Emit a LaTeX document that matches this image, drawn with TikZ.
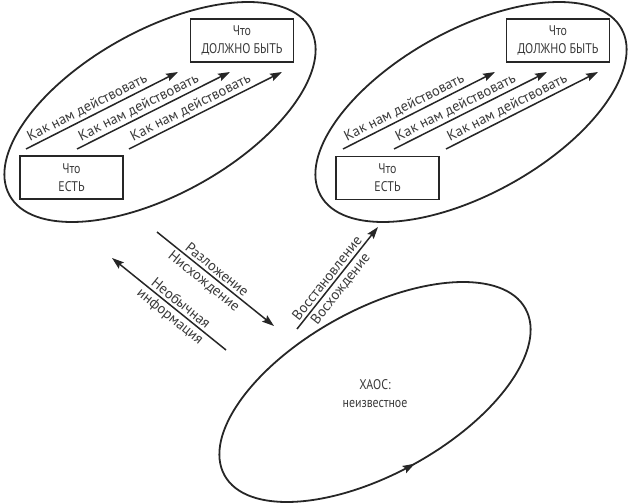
\documentclass[tikz,border=0pt]{standalone}
\usepackage{fontspec}
\setmainfont{PT Sans}[FakeStretch=0.85]
\newfontfamily\lblfont{PT Sans}
\usepackage{tikz}
\usetikzlibrary{arrows.meta,decorations.markings}
\definecolor{ink}{HTML}{262626}
\definecolor{txt}{HTML}{3A3A3A}

\begin{document}
\begin{tikzpicture}[x=1pt,y=-1pt,
		>={Stealth[length=12pt,width=8pt,inset=2pt]},
		box/.style={draw=ink, line width=1.8pt, minimum width=103pt, minimum height=43pt, inner sep=0pt, align=center, text=txt, font=\fontsize{14}{18}\selectfont},
		flow/.style={draw=ink, line width=1.5pt, ->},
		oval/.style={ink, line width=1.8pt},
		lbl/.style={sloped, text=txt, inner sep=2.5pt, font=\lblfont\fontsize{14.5}{17}\selectfont}]
	\useasboundingbox (0,0) rectangle (630,503);

	\draw[oval, rotate around={29:(160,112)}] (160,112) ellipse [x radius=172pt, y radius=82pt];
	\node[box] (is1) at (71.5,177.5) {Что\\ЕСТЬ};
	\node[box] (must1) at (242,40.5) {Что\\ДОЛЖНО БЫТЬ};
	\coordinate (a1s) at (26,149);
	\coordinate (a1e) at (178,72);
	\coordinate (a2s) at (77,149);
	\coordinate (a2e) at (230,72);
	\coordinate (a3s) at (129,149);
	\coordinate (a3e) at (282,72);
	\draw[flow] (a1s) -- node[lbl, above, pos=0.43] {Как нам действовать} (a1e);
	\draw[flow] (a2s) -- node[lbl, above, pos=0.43] {Как нам действовать} (a2e);
	\draw[flow] (a3s) -- node[lbl, above, pos=0.43] {Как нам действовать} (a3e);

	\draw[oval, rotate around={29:(471,112)}] (471,112) ellipse [x radius=172pt, y radius=82pt];
	\node[box] (is2) at (387.5,178) {Что\\ЕСТЬ};
	\node[box] (must2) at (558,40.5) {Что\\ДОЛЖНО БЫТЬ};
	\coordinate (b1s) at (343,149);
	\coordinate (b1e) at (495,72);
	\coordinate (b2s) at (394,149);
	\coordinate (b2e) at (547,72);
	\coordinate (b3s) at (446,149);
	\coordinate (b3e) at (598,72);
	\draw[flow] (b1s) -- node[lbl, above, pos=0.43] {Как нам действовать} (b1e);
	\draw[flow] (b2s) -- node[lbl, above, pos=0.43] {Как нам действовать} (b2e);
	\draw[flow] (b3s) -- node[lbl, above, pos=0.43] {Как нам действовать} (b3e);

	\draw[oval, rotate around={29:(375,392)}, decoration={markings, mark=at position 0.75 with {\arrow{>}}}, postaction={decorate}] (375,392) ellipse [x radius=172pt, y radius=82pt];
	\node[text=txt, align=center, font=\fontsize{14}{18}\selectfont] (chaos) at (375,394) {ХАОС:\\неизвестное};

	\coordinate (downS) at (157,232);
	\coordinate (downE) at (274,326);
	\coordinate (infoE) at (112,258);
	\coordinate (infoS) at (226,350);
	\coordinate (upS) at (297,329);
	\coordinate (upE) at (378,227);
	\draw[flow] (downS) -- node[lbl, above, pos=0.47] {Разложение} node[lbl, below, pos=0.45] {Нисхождение} (downE);
	\draw[flow, <-] (infoE) -- node[lbl, above, pos=0.56] {Необычная} node[lbl, below, pos=0.56] {информация} (infoS);
	\draw[flow] (upS) -- node[lbl, above, pos=0.45] {Восстановление} node[lbl, below, pos=0.45] {Восхождение} (upE);
\end{tikzpicture}
\end{document}
